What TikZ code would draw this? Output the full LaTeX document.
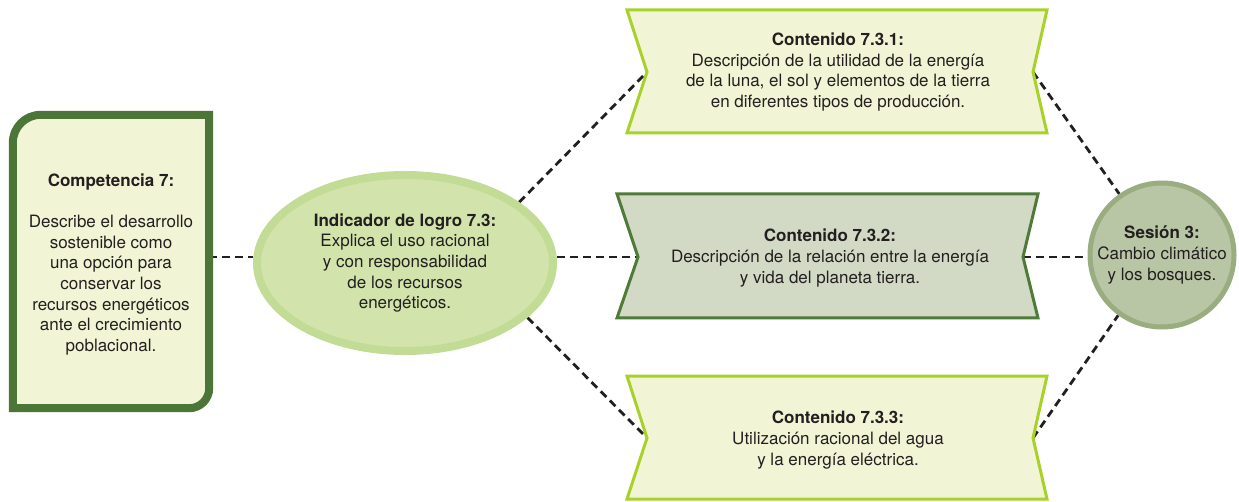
\documentclass[tikz,border=0pt]{standalone}
\usepackage{fontspec}
\setmainfont{TeX Gyre Heros}
\usetikzlibrary{shapes.geometric}
\pgfdeclarelayer{bg}
\pgfsetlayers{bg,main}
\definecolor{txt}{HTML}{231F20}
\definecolor{compborder}{HTML}{4B7638}
\definecolor{lightfill}{HTML}{F1F5D5}
\definecolor{lime}{HTML}{A8D12A}
\definecolor{midfill}{HTML}{D2DAC6}
\definecolor{midborder}{HTML}{4F7B39}
\definecolor{ellfill}{HTML}{D2E4AB}
\definecolor{ellborder}{HTML}{C3DC95}
\definecolor{sessfill}{HTML}{B9C6A5}
\definecolor{sessborder}{HTML}{9AAD80}
\tikzset{
  lbl/.style={text=txt, align=center, inner sep=0pt, font=\fontsize{17}{20.6}\selectfont},
  conn/.style={draw=txt, line width=2.8pt, dash pattern=on 8pt off 5pt},
  banlight/.style={fill=lightfill, draw=lime, line width=3pt, line join=miter},
  banmid/.style={fill=midfill, draw=midborder, line width=3pt, line join=miter},
  compshape/.style={fill=lightfill, draw=compborder, line width=8pt, line join=miter},
}
\begin{document}
\begin{tikzpicture}[x=1pt,y=1pt]
\useasboundingbox (0,0) rectangle (1239,501);

% Competencia box
\node[minimum width=196pt, minimum height=293pt, inner sep=0pt] (comp) at (111,239.5) {};
\draw[compshape] (comp.south west) -- ([yshift=-28pt]comp.north west)
  arc[start angle=180, end angle=90, radius=28pt] -- (comp.north east)
  -- ([yshift=20pt]comp.south east) arc[start angle=0, end angle=-90, radius=20pt] -- cycle;
\node[lbl] (comptxt) at (111,236.5) {\textbf{Competencia 7:}\\[20.6pt]Describe el desarrollo\\sostenible como\\una opción para\\conservar los\\recursos energéticos\\ante el crecimiento\\poblacional.};

% Indicador ellipse
\node[ellipse, fill=ellfill, draw=ellborder, line width=8pt, minimum width=296pt, minimum height=176pt, lbl] (ind) at (405,238) {\textbf{Indicador de logro 7.3:}\\Explica el uso racional\\y con responsabilidad\\de los recursos\\energéticos.};

% Banner 1
\draw[banlight] (627,491) -- (1047,491) -- (1033,429) -- (1047,368) -- (627,368) -- (647,429) -- cycle;
\coordinate (b1L) at (647,429);
\coordinate (b1R) at (1033,429);
\node[lbl] (b1) at (838,429) {\textbf{Contenido 7.3.1:}\\Descripción de la utilidad de la energía\\de la luna, el sol y elementos de la tierra\\en diferentes tipos de producción.};

% Banner 2
\draw[banmid] (617,307) -- (1038,307) -- (1023,244) -- (1038,183) -- (617,183) -- (638,244) -- cycle;
\coordinate (b2L) at (638,244);
\coordinate (b2R) at (1023,244);
\node[lbl] (b2) at (830,243) {\textbf{Contenido 7.3.2:}\\Descripción de la relación entre la energía\\y vida del planeta tierra.};

% Banner 3
\draw[banlight] (627,125) -- (1047,125) -- (1033,63) -- (1047,2) -- (627,2) -- (647,63) -- cycle;
\coordinate (b3L) at (647,63);
\coordinate (b3R) at (1033,63);
\node[lbl] (b3) at (838,61) {\textbf{Contenido 7.3.3:}\\Utilización racional del agua\\y la energía eléctrica.};

% Sesion circle
\node[circle, fill=sessfill, draw=sessborder, line width=5pt, minimum size=144pt, lbl] (sess) at (1162,246) {\textbf{Sesión 3:}\\Cambio climático\\y los bosques.};

% Connectors
\begin{pgfonlayer}{bg}
\draw[conn] (comp.east |- b2L) -- (ind.west |- b2L);
\draw[conn] (ind.east |- b2L) -- (b2L);
\draw[conn] (ind.28) -- (b1L);
\draw[conn] (ind.-24) -- (b3L);
\draw[conn] (b2R) -- (sess.west |- b2R);
\draw[conn] (b1R) -- (sess.125);
\draw[conn] (b3R) -- (sess.-126);
\end{pgfonlayer}
\end{tikzpicture}
\end{document}
